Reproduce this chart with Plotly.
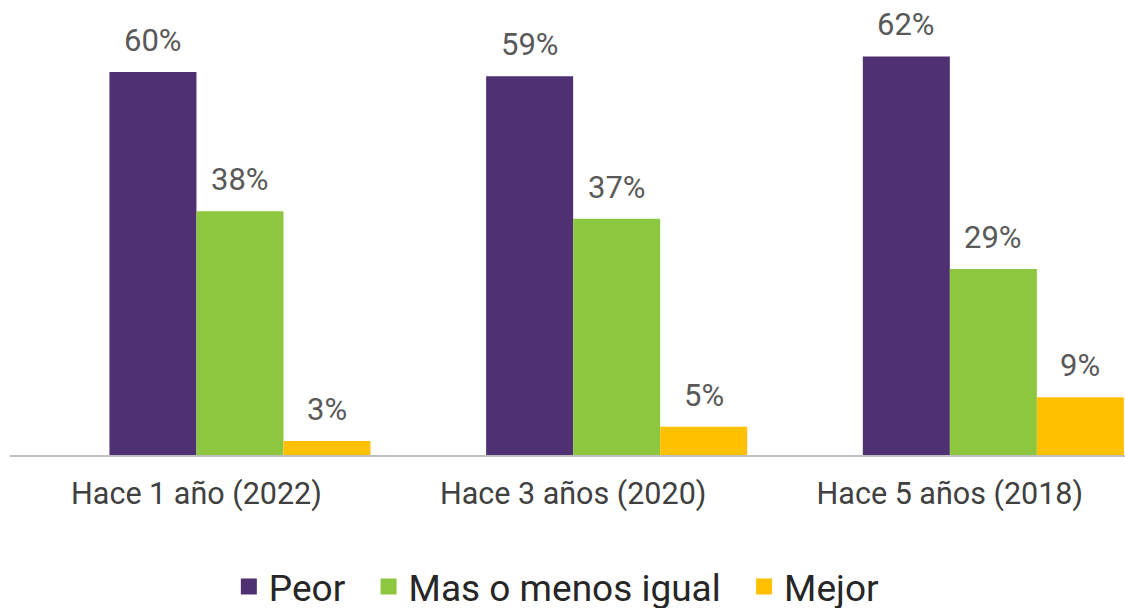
import plotly.graph_objects as go

categories = ["Hace 1 año (2022)", "Hace 3 años (2020)", "Hace 5 años (2018)"]
series_names = ["Peor", "Mas o menos igual", "Mejor"]
peor = [59.7, 59.0, 62.1]
igual = [38.0, 36.8, 29.0]
mejor = [2.2, 4.4, 9.0]
peor_labels = ["60%", "59%", "62%"]
igual_labels = ["38%", "37%", "29%"]
mejor_labels = ["3%", "5%", "9%"]

colors = ["#4f3173", "#8dc63f", "#ffc000"]
bar_w = 0.231
FONT = "Roboto"
PAD = "\u00a0\u00a0"

series = [peor, igual, mejor]
labels = [peor_labels, igual_labels, mejor_labels]
idx = list(range(len(categories)))

fig = go.Figure()
annotations = []
for k, (name, vals, labs, col) in enumerate(zip(series_names, series, labels, colors)):
    off = (k - 0.5) * bar_w
    xs = [i + off for i in idx]
    fig.add_trace(go.Bar(x=xs, y=vals, width=bar_w, marker=dict(color=col, line=dict(width=0)),
                         name=name, showlegend=False, hoverinfo="skip"))
    # legend proxy
    fig.add_trace(go.Scatter(x=[None], y=[None], mode="markers",
                             name=name + (PAD if k < len(series_names) - 1 else ""),
                             marker=dict(symbol="square", size=16, color=col)))
    for x, v, t in zip(xs, vals, labs):
        annotations.append(dict(x=x, y=v, xref="x", yref="y", text=t, showarrow=False,
                                yanchor="bottom", yshift=11,
                                font=dict(family=FONT, size=31, color="#595959")))

fig.update_layout(
    width=1125, height=608,
    margin=dict(l=10, r=0, t=0, b=153, autoexpand=False),
    plot_bgcolor="white", paper_bgcolor="white",
    barmode="overlay",
    annotations=annotations,
    showlegend=True,
    legend=dict(orientation="h", x=0.49, xanchor="center", y=-0.290, yanchor="middle",
                font=dict(family=FONT, size=37, color="#262626"), itemsizing="trace"),
    xaxis=dict(range=[-0.495, 2.465], tickvals=idx, ticktext=categories,
               showgrid=False, zeroline=False, showline=True, linecolor="#bfbfbf", linewidth=2,
               ticks="", ticklabelstandoff=10,
               tickfont=dict(family=FONT, size=30.5, color="#404040")),
    yaxis=dict(range=[0, 70.9], visible=False, showgrid=False, zeroline=False),
)

post = ("document.documentElement.style.margin='0';document.body.style.margin='0';"
        "var g=document.querySelector('.plotly-graph-div');"
        "g.style.position='fixed';g.style.top='0px';g.style.left='0px';")

fig.write_html("out.html", config={"displayModeBar": False}, post_script=post)
